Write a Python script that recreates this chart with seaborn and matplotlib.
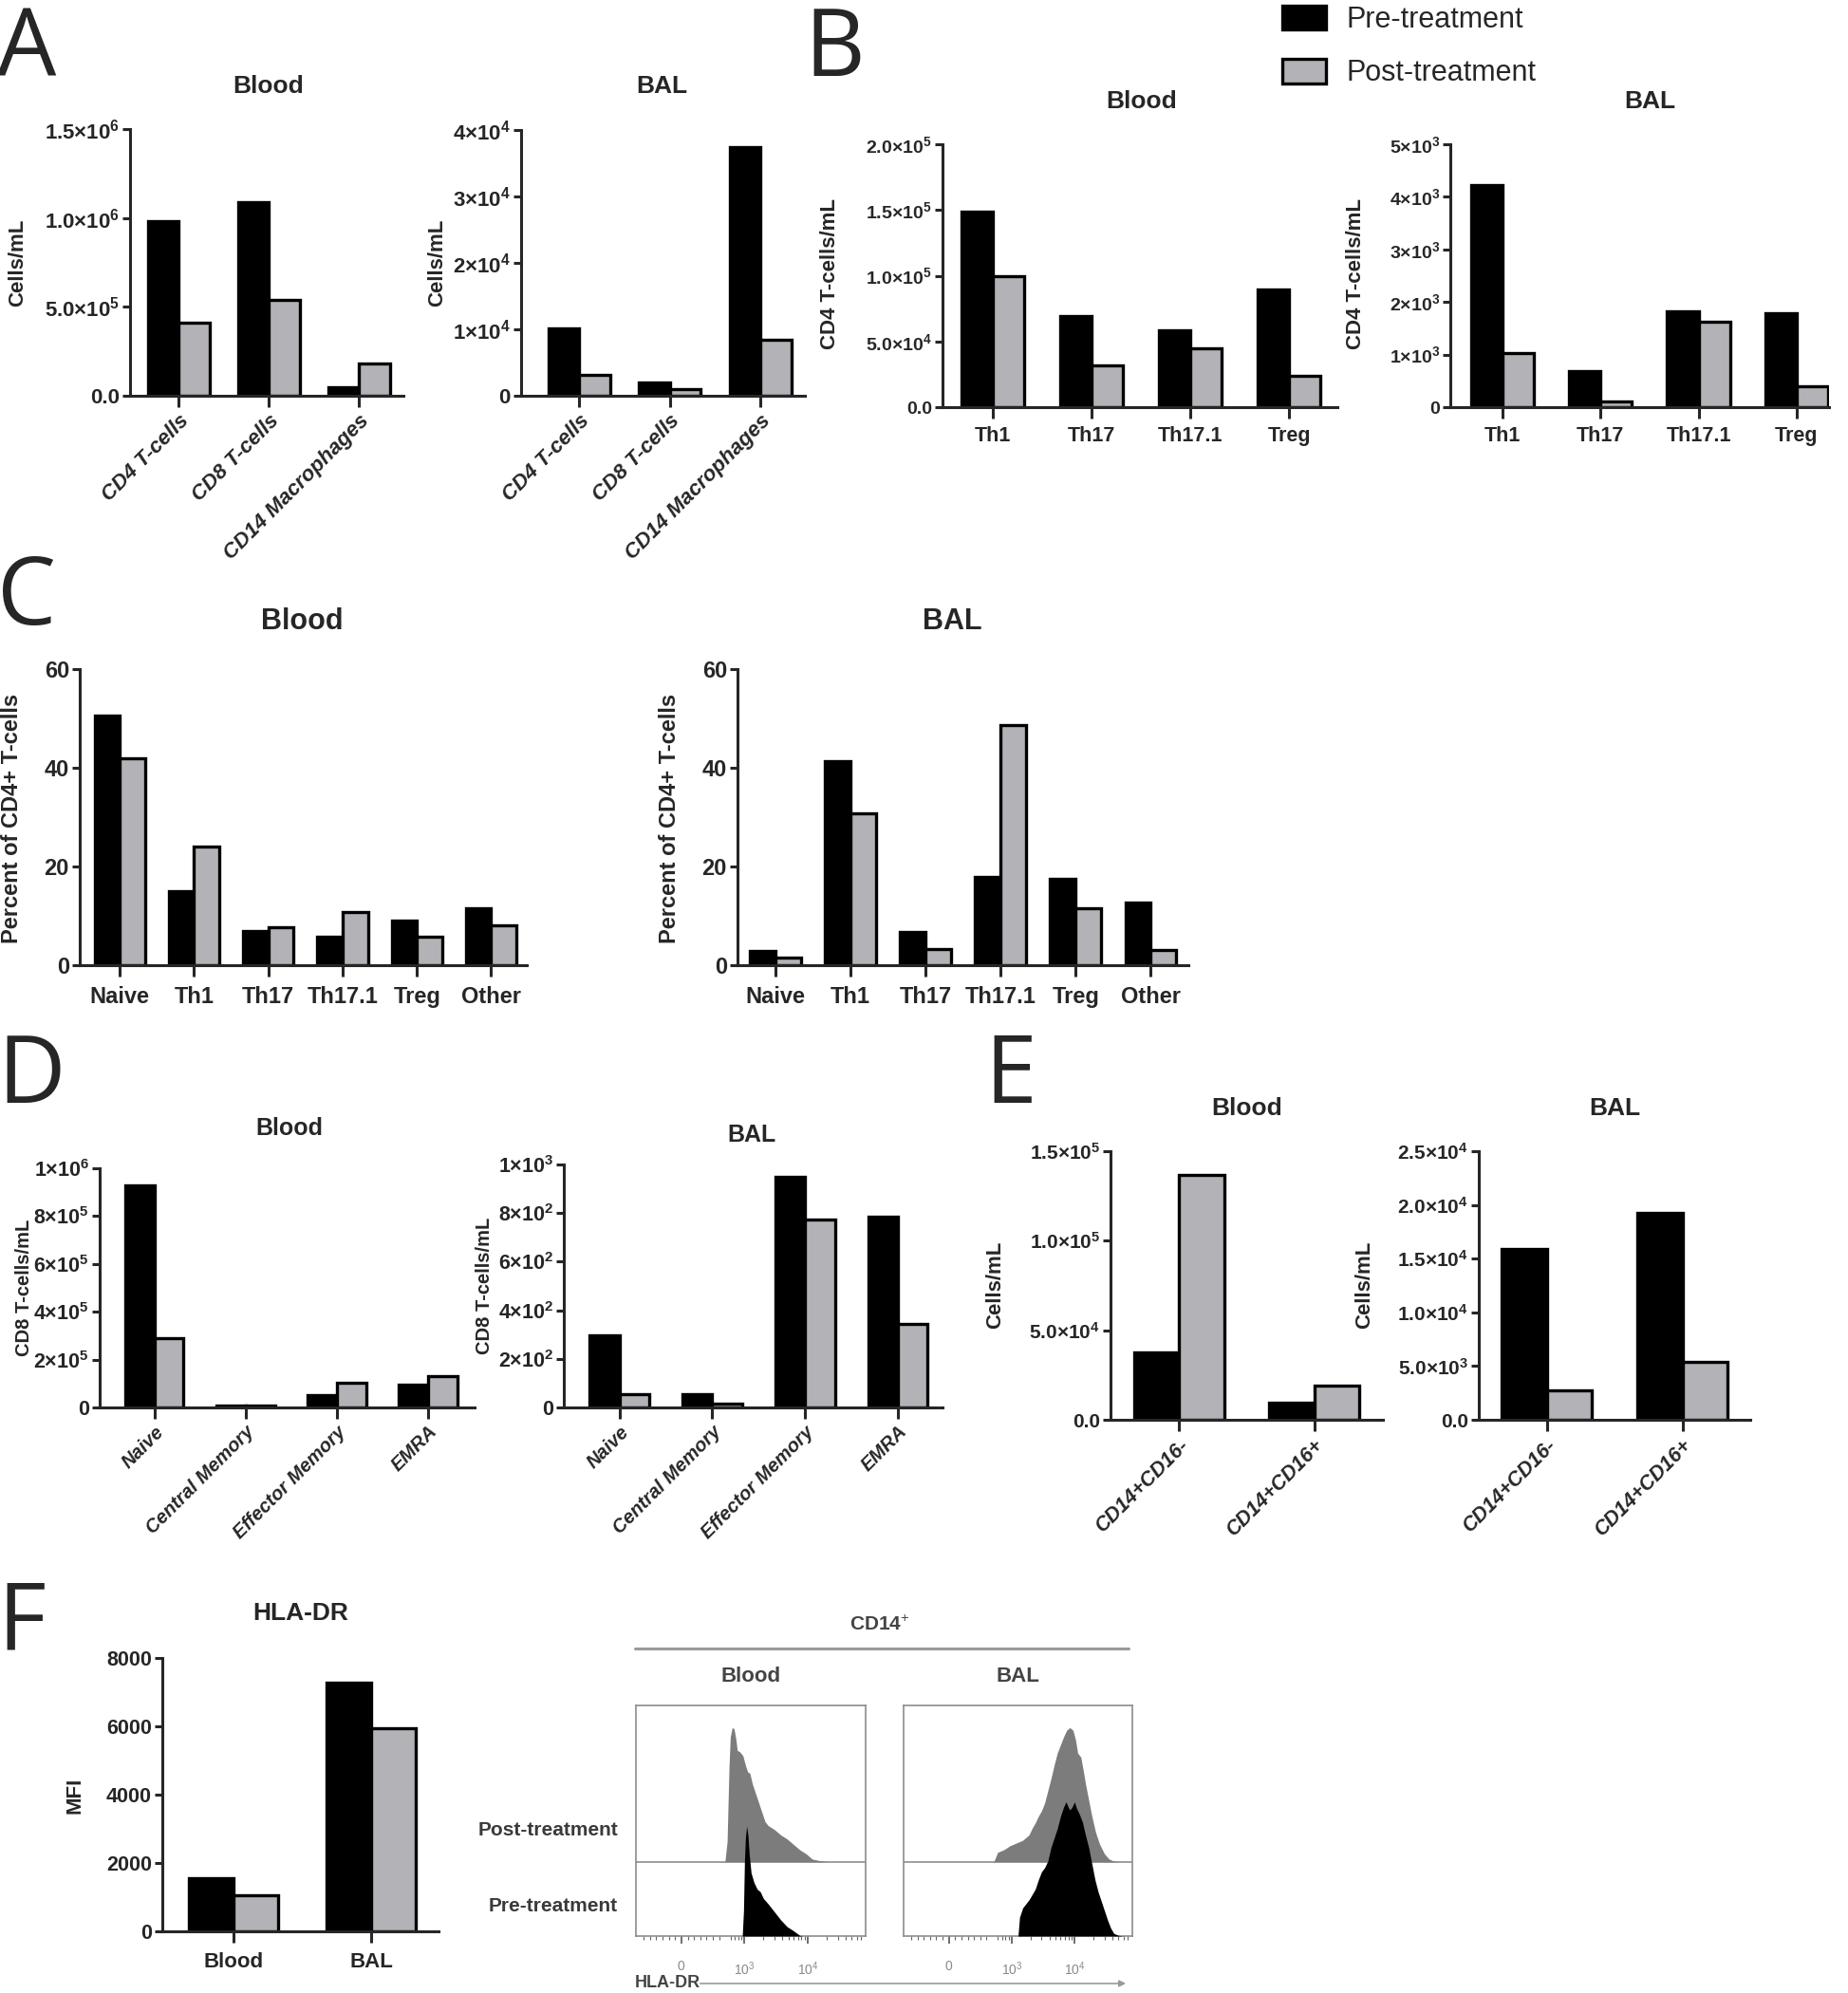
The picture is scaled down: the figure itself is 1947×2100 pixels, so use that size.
import numpy as np
import pandas as pd
import seaborn as sns
import matplotlib.pyplot as plt
from matplotlib.lines import Line2D

W, H = 1947, 2100
DPI = 100

sns.set_style("ticks")
plt.rcParams["font.family"] = ["Liberation Sans", "DejaVu Sans"]
plt.rcParams["mathtext.fontset"] = "custom"
plt.rcParams["mathtext.rm"] = "Liberation Sans"
plt.rcParams["mathtext.bf"] = "Liberation Sans:bold"
plt.rcParams["mathtext.it"] = "Liberation Sans:italic"

GROUPS = ["Pre-treatment", "Post-treatment"]
PALETTE = {"Pre-treatment": "#000000", "Post-treatment": "#b3b3b7"}

# ---------------- data ----------------
# A: total cells
a_cells = ["CD4 T-cells", "CD8 T-cells", "CD14 Macrophages"]
a_blood_pre = [0.98e6, 1.09e6, 0.05e6]
a_blood_post = [0.41e6, 0.54e6, 0.18e6]
a_bal_pre = [1.02e4, 0.20e4, 3.75e4]
a_bal_post = [0.32e4, 0.10e4, 0.85e4]

# B: CD4 subsets (cells/mL)
b_cells = ["Th1", "Th17", "Th17.1", "Treg"]
b_blood_pre = [1.49e5, 0.69e5, 0.586e5, 0.898e5]
b_blood_post = [1.00e5, 0.32e5, 0.446e5, 0.237e5]
b_bal_pre = [4230, 690, 1830, 1790]
b_bal_post = [1020, 100, 1630, 390]

# C: CD4 subsets (percent)
c_cells = ["Naive", "Th1", "Th17", "Th17.1", "Treg", "Other"]
c_blood_pre = [50.6, 14.95, 6.9, 5.8, 9.0, 11.55]
c_blood_post = [42.0, 24.1, 7.7, 10.7, 5.8, 8.0]
c_bal_pre = [2.8, 41.4, 6.7, 17.8, 17.5, 12.7]
c_bal_post = [1.6, 30.7, 3.3, 48.6, 11.55, 3.0]

# D: CD8 subsets
d_cells = ["Naive", "Central Memory", "Effector Memory", "EMRA"]
d_blood_pre = [0.93e6, 0.007e6, 0.051e6, 0.094e6]
d_blood_post = [0.29e6, 0.007e6, 0.104e6, 0.132e6]
d_bal_pre = [297, 56, 948, 784]
d_bal_post = [53, 14, 773, 344]

# E: monocytes
e_cells = ["CD14+CD16-", "CD14+CD16+"]
e_blood_pre = [0.378e5, 0.098e5]
e_blood_post = [1.37e5, 0.193e5]
e_bal_pre = [1.59e4, 1.93e4]
e_bal_post = [0.274e4, 0.535e4]

# F: HLA-DR MFI
f_cells = ["Blood", "BAL"]
f_pre = [1561, 7275]
f_post = [1068, 5956]

# F: HLA-DR histograms (display position, % of mode)
blood_post_t = [0.69, 0.725, 0.755, 0.775, 0.805, 0.835, 0.865, 0.885, 0.925, 0.975,
                1.015, 1.05, 1.085, 1.125, 1.175, 1.225, 1.275, 1.325, 1.375, 1.475,
                1.575, 1.675, 1.775, 1.875, 1.975, 2.075, 2.175, 2.325]
blood_post_pct = [0, 15, 70, 93, 100, 99, 91, 83, 82, 79, 72, 67, 66, 58, 51, 44, 37, 30,
                  27, 24, 20, 17, 13, 9, 6, 2, 1, 0]
blood_pre_t = [0.965, 0.985, 1.0, 1.015, 1.035, 1.055, 1.075, 1.105, 1.15, 1.2, 1.25, 1.3,
               1.375, 1.475, 1.575, 1.675, 1.775, 1.875, 1.925]
blood_pre_pct = [0, 19, 56, 73, 82, 75, 61, 47, 40, 35, 33, 28, 24, 18, 12, 7, 4, 0.5, 0]
bal_post_t = [0.715, 0.775, 0.875, 0.975, 1.075, 1.175, 1.275, 1.325, 1.375, 1.425,
              1.475, 1.525, 1.575, 1.625, 1.675, 1.725, 1.775, 1.825, 1.875, 1.925,
              1.975, 2.015, 2.05, 2.1, 2.135, 2.175, 2.225, 2.275, 2.335, 2.4,
              2.475, 2.55, 2.625, 2.725]
bal_post_pct = [0, 7, 9, 12, 14, 16, 20, 25, 29, 34, 38, 44, 53, 62, 72, 81, 87, 93, 98,
                100, 98, 91, 81, 78, 69, 58, 46, 34, 22, 13, 6, 2, 0.5, 0]
bal_pre_t = [1.1, 1.125, 1.175, 1.225, 1.275, 1.325, 1.375, 1.425, 1.475, 1.525,
             1.575, 1.625, 1.675, 1.725, 1.775, 1.825, 1.865, 1.9, 1.925, 1.96,
             2.0, 2.025, 2.075, 2.125, 2.175, 2.225, 2.275, 2.325, 2.375, 2.425,
             2.475, 2.525, 2.575, 2.625, 2.7, 2.775]
bal_pre_pct = [0, 14, 21, 24, 27, 31, 35, 42, 48, 51, 56, 66, 73, 80, 89, 96, 100, 96, 94,
               96, 100, 96, 91, 85, 75, 66, 54, 42, 33, 26, 19, 12, 6, 2, 0.5, 0]

fig = plt.figure(figsize=(W / DPI, H / DPI), dpi=DPI)


def px(x, y):
    return x / W, 1 - y / H


def sci(labels):
    # "1.5x10^6" style labels
    out = []
    for lab in labels:
        if "^" in lab:
            m, e = lab.split("^")
            out.append(m + r"$^{\mathbf{" + e + "}}$")
        else:
            out.append(lab)
    return out


def bar_panel(box, cats, pre, post, xlim, yticks, ylabels, ylabel, ylab_xy,
              fs, lab_fs, xfs, rot=False, width=0.66, xpad=6):
    l, t, r, b = box
    ax = fig.add_axes([l / W, 1 - b / H, (r - l) / W, (b - t) / H])
    n = len(cats)
    df = pd.DataFrame({"cell": cats * 2, "value": pre + post,
                       "time": [GROUPS[0]] * n + [GROUPS[1]] * n})
    sns.barplot(df, x="cell", y="value", hue="time", order=cats, hue_order=GROUPS,
                palette=PALETTE, width=width, gap=0, saturation=1, errorbar=None,
                edgecolor="black", linewidth=2.4, legend=False, ax=ax)
    ax.set_xlim(*xlim)
    ax.set_ylim(yticks[0], yticks[-1])
    ax.set_yticks(yticks, sci(ylabels))
    sns.despine(ax=ax)
    for s in ["left", "bottom"]:
        ax.spines[s].set_linewidth(2.2)
    ax.tick_params(axis="y", length=6, width=2.2, labelsize=fs, pad=2)
    ax.tick_params(axis="x", length=8.5, width=2.2, labelsize=xfs,
                   pad=3 if rot else xpad)
    for lab in ax.get_yticklabels():
        lab.set_fontweight("bold")
    for lab in ax.get_xticklabels():
        lab.set_fontweight("bold")
        if rot:
            lab.set_rotation(45)
            lab.set_ha("right")
            lab.set_rotation_mode("anchor")
            lab.set_fontstyle("italic")
    ax.set_xlabel("")
    ax.set_ylabel(ylabel, fontsize=lab_fs, fontweight="bold")
    ax.yaxis.label.set_va("center")
    ax.yaxis.set_label_coords((ylab_xy[0] - l) / (r - l), (b - ylab_xy[1]) / (b - t))
    return ax


def title(x, y, s, fs):
    fig.text(*px(x, y), s, ha="center", va="center", fontsize=fs, fontweight="bold")


def letter(x, y, s):
    fig.text(*px(x, y), s, ha="left", va="baseline", fontsize=71,
             family=["Open Sans", "DejaVu Sans"])


# ---------------- A ----------------
letter(-3, 80, "A")
axA1 = bar_panel((137, 136, 425, 417), a_cells, a_blood_pre, a_blood_post, (-0.54, 2.49),
                 [0, 0.5e6, 1.0e6, 1.5e6], ["0.0", "5.0×10^5", "1.0×10^6", "1.5×10^6"],
                 "Cells/mL", (19, 277), 16, 16, 16, rot=True, width=0.68)
title(283, 91, "Blood", 19)
axA2 = bar_panel((549, 137, 848, 417), a_cells, a_bal_pre, a_bal_post, (-0.64, 2.49),
                 [0, 1e4, 2e4, 3e4, 4e4], ["0", "1×10^4", "2×10^4", "3×10^4", "4×10^4"],
                 "Cells/mL", (461, 277), 16, 16, 16, rot=True, width=0.68)
title(697, 91, "BAL", 19)

# ---------------- B ----------------
letter(847, 80, "B")
axB1 = bar_panel((993, 152, 1409, 429), b_cells, b_blood_pre, b_blood_post, (-0.51, 3.49),
                 [0, 0.5e5, 1.0e5, 1.5e5, 2.0e5],
                 ["0.0", "5.0×10^4", "1.0×10^5", "1.5×10^5", "2.0×10^5"],
                 "CD4 T-cells/mL", (874, 289), 14, 16, 15.5, width=0.64, xpad=6)
title(1203, 107, "Blood", 19)
axB2 = bar_panel((1528, 152, 1927, 429), b_cells, b_bal_pre, b_bal_post, (-0.53, 3.33),
                 [0, 1e3, 2e3, 3e3, 4e3, 5e3],
                 ["0", "1×10^3", "2×10^3", "3×10^3", "4×10^3", "5×10^3"],
                 "CD4 T-cells/mL", (1429, 289), 14, 16, 15.5, width=0.64, xpad=6)
title(1738, 107, "BAL", 19)

handles = [axB1.containers[0][0], axB1.containers[1][0]]
fig.legend(handles, GROUPS, loc="upper left", bbox_to_anchor=px(1351, 6), frameon=False,
           fontsize=22, handlelength=1.5, handleheight=0.9, handletextpad=0.72,
           labelspacing=0.85, borderpad=0, borderaxespad=0)

# ---------------- C ----------------
letter(-3, 658, "C")
axC1 = bar_panel((84, 705, 555, 1017), c_cells, c_blood_pre, c_blood_post, (-0.54, 5.48),
                 [0, 20, 40, 60], ["0", "20", "40", "60"],
                 "Percent of CD4+ T-cells", (13, 862), 17, 17, 17, width=0.68, xpad=7)
title(318, 655, "Blood", 22)
axC2 = bar_panel((777, 705, 1252, 1017), c_cells, c_bal_pre, c_bal_post, (-0.5, 5.5),
                 [0, 20, 40, 60], ["0", "20", "40", "60"],
                 "Percent of CD4+ T-cells", (705, 862), 17, 17, 17, width=0.68, xpad=7)
title(1003, 655, "BAL", 22)

# ---------------- D ----------------
letter(-3, 1162, "D")
axD1 = bar_panel((105, 1231, 500, 1483), d_cells, d_blood_pre, d_blood_post, (-0.6, 3.51),
                 [0, 2e5, 4e5, 6e5, 8e5, 1e6],
                 ["0", "2×10^5", "4×10^5", "6×10^5", "8×10^5", "1×10^6"],
                 "CD8 T-cells/mL", (26, 1357), 15.5, 14.5, 14.5, rot=True, width=0.64)
title(305, 1189, "Blood", 18)
axD2 = bar_panel((594, 1227, 993, 1483), d_cells, d_bal_pre, d_bal_post, (-0.6, 3.48),
                 [0, 200, 400, 600, 800, 1000],
                 ["0", "2×10^2", "4×10^2", "6×10^2", "8×10^2", "1×10^3"],
                 "CD8 T-cells/mL", (510, 1355), 15.5, 14.5, 14.5, rot=True, width=0.64)
title(792, 1196, "BAL", 18)

# ---------------- E ----------------
letter(1037, 1162, "E")
axE1 = bar_panel((1170, 1213, 1457, 1496), e_cells, e_blood_pre, e_blood_post, (-0.51, 1.51),
                 [0, 0.5e5, 1.0e5, 1.5e5], ["0.0", "5.0×10^4", "1.0×10^5", "1.5×10^5"],
                 "Cells/mL", (1049, 1354), 15, 16, 15.5, rot=True, width=0.67)
title(1314, 1168, "Blood", 19)
axE2 = bar_panel((1558, 1213, 1844, 1496), e_cells, e_bal_pre, e_bal_post, (-0.5, 1.5),
                 [0, 5e3, 1e4, 1.5e4, 2e4, 2.5e4],
                 ["0.0", "5.0×10^3", "1.0×10^4", "1.5×10^4", "2.0×10^4", "2.5×10^4"],
                 "Cells/mL", (1438, 1354), 15, 16, 15.5, rot=True, width=0.67)
title(1701, 1168, "BAL", 19)

# ---------------- F ----------------
letter(-3, 1738, "F")
axF = bar_panel((171, 1747, 462, 2035), f_cells, f_pre, f_post, (-0.52, 1.49),
                [0, 2000, 4000, 6000, 8000], ["0", "2000", "4000", "6000", "8000"],
                "MFI", (79, 1892), 15.5, 16, 16, width=0.65, xpad=7)
title(317, 1700, "HLA-DR", 19)

HIST_GRAY = "#7c7c7c"
FRAME = "#8c8c8c"
POST_BASE = 0.322
PEAK = 0.582
minor = list(np.arange(-0.6, 0.65, 0.1)) + [np.log10(k) for k in range(6, 10)] + \
        [1 + np.log10(k) for k in range(2, 10)] + [2 + np.log10(k) for k in range(2, 8)]


def hist_panel(box, post_t, post_pct, pre_t, pre_pct):
    l, t, r, b = box
    ax = fig.add_axes([l / W, 1 - b / H, (r - l) / W, (b - t) / H])
    ax.set_xlim(-0.72, 2.92)
    ax.set_ylim(0, 1)
    ax.axhline(POST_BASE, color=FRAME, lw=1.2, zorder=1)
    ax.fill_between(post_t, POST_BASE + np.array(post_pct) / 100 * PEAK, POST_BASE,
                    color=HIST_GRAY, lw=0, zorder=2)
    ax.fill_between(pre_t, np.array(pre_pct) / 100 * PEAK, 0,
                    color="black", lw=0, zorder=3)
    for s in ax.spines.values():
        s.set_color(FRAME)
        s.set_linewidth(1.2)
    ax.set_yticks([])
    ax.set_xticks([0, 1, 2], ["0", "10$^{3}$", "10$^{4}$"])
    ax.set_xticks(minor, minor=True)
    ax.tick_params(axis="x", which="major", length=6, width=1.2, color="#555555",
                   labelsize=10, labelcolor="#8a8a8a", pad=12)
    ax.tick_params(axis="x", which="minor", length=3, width=0.8, color="#666666")
    ax.set_facecolor("white")
    return ax


axH1 = hist_panel((670, 1797, 912, 2040), blood_post_t, blood_post_pct, blood_pre_t, blood_pre_pct)
axH2 = hist_panel((952, 1797, 1193, 2040), bal_post_t, bal_post_pct, bal_pre_t, bal_pre_pct)

fig.text(*px(927, 1712), "CD14$^{+}$", ha="center", va="center", fontsize=15,
         fontweight="bold", color="#444444")
fig.add_artist(Line2D([669 / W, 1189 / W], [1 - 1737 / H, 1 - 1737 / H],
                      color="#9a9a9a", lw=2.2))
fig.text(*px(791, 1766), "Blood", ha="center", va="center", fontsize=16,
         fontweight="bold", color="#444444")
fig.text(*px(1072, 1766), "BAL", ha="center", va="center", fontsize=16,
         fontweight="bold", color="#444444")
fig.text(*px(651, 1928), "Post-treatment", ha="right", va="center", fontsize=15,
         fontweight="bold", color="#3a3a3a")
fig.text(*px(651, 2008), "Pre-treatment", ha="right", va="center", fontsize=15,
         fontweight="bold", color="#3a3a3a")
fig.text(*px(669, 2089), "HLA-DR", ha="left", va="center", fontsize=13,
         fontweight="bold", color="#444444")
axH1.annotate("", xy=px(1189, 2090), xytext=px(735, 2090), xycoords="figure fraction",
              textcoords="figure fraction",
              arrowprops=dict(arrowstyle="-|>", color="#999999", lw=1.2, mutation_scale=10),
              annotation_clip=False)

fig.savefig("out.png", dpi=DPI)
